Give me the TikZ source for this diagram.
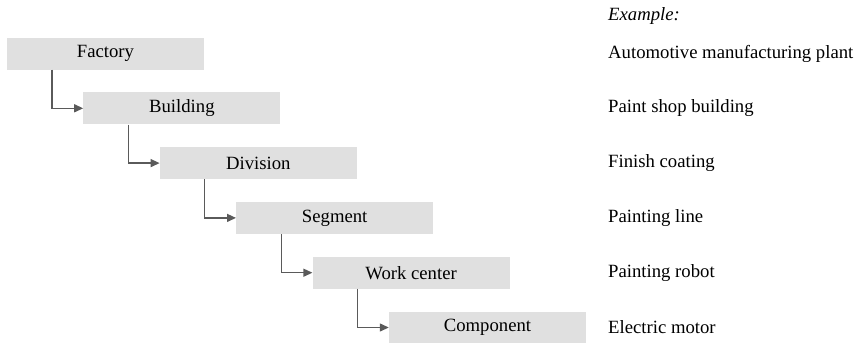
\documentclass[tikz,border=0pt]{standalone}
\usepackage{fontspec}
\setmainfont{Liberation Serif}
\usetikzlibrary{arrows.meta}
\definecolor{boxgray}{HTML}{E0E0E0}
\definecolor{linegray}{HTML}{5A5A5A}
\begin{document}
\begin{tikzpicture}[x=1bp,y=-1bp,
  level/.style={fill=boxgray, draw=none, minimum width=197bp, minimum height=32bp,
    inner sep=0pt, font=\fontsize{18.7bp}{22bp}\selectfont},
  example/.style={anchor=west, inner sep=0pt, font=\fontsize{18.7bp}{22bp}\selectfont},
  link/.style={draw=linegray, line width=1.3bp,
    -{Triangle[length=9bp,width=8bp]}}]
\useasboundingbox (0,0) rectangle (866,342);
% hierarchy levels, each shifted right and down
\node[level] (factory)  at (105.5,53.5)  {Factory};
\node[level] (building) at (181.9,108.3) {Building};
\node[level] (division) at (258.3,163.1) {Division};
\node[level] (segment)  at (334.7,217.9) {Segment};
\node[level] (workc)    at (411.1,272.7) {Work center};
\node[level] (comp)     at (487.5,327.5) {Component};
% elbow connectors from each level to the next
\draw[link] ([xshift=-53.5bp]factory.south)  |- (building.west);
\draw[link] ([xshift=-53.5bp]building.south) |- (division.west);
\draw[link] ([xshift=-53.5bp]division.south) |- (segment.west);
\draw[link] ([xshift=-53.5bp]segment.south)  |- (workc.west);
\draw[link] ([xshift=-53.5bp]workc.south)    |- (comp.west);
% example column
\node[example] (head) at (608,15.5) {\itshape Example:};
\node[example] (ex1) at (608,53.5)  {Automotive manufacturing plant};
\node[example] (ex2) at (608,108.3) {Paint shop building};
\node[example] (ex3) at (608,163.1) {Finish coating};
\node[example] (ex4) at (608,217.9) {Painting line};
\node[example] (ex5) at (608,272.7) {Painting robot};
\node[example] (ex6) at (608,327.5) {Electric motor};
\end{tikzpicture}
\end{document}
